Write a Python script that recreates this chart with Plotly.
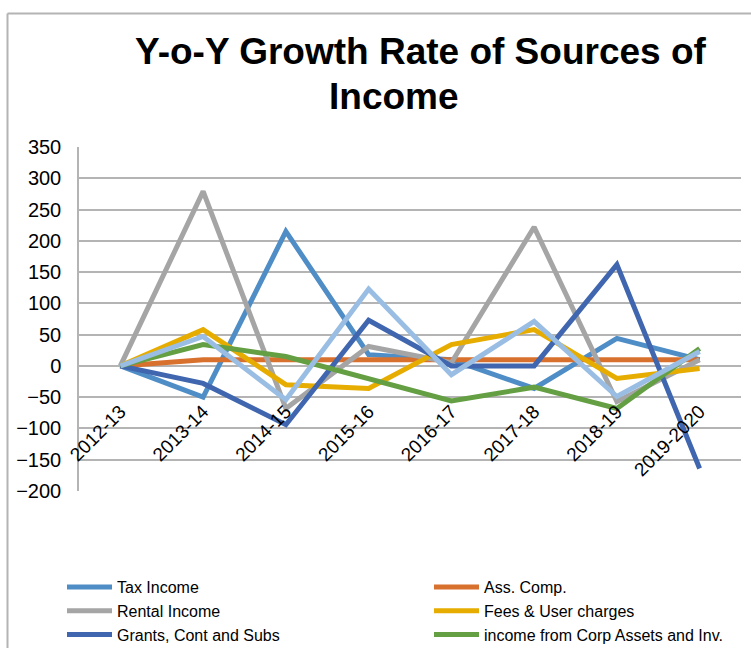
import plotly.graph_objects as go

# Financial years
years = ["2012-13", "2013-14", "2014-15", "2015-16", "2016-17",
         "2017-18", "2018-19", "2019-2020"]

# Year-on-year growth (%) of each income source
tax_income = [0, -50, 215, 18, 10, -36, 44, 10]
ass_comp = [0, 10, 10, 10, 10, 10, 10, 10]
rental_income = [0, 279, -68, 31, 5, 222, -57, 10]
fees_user = [0, 58, -30, -36, 34, 58, -20, -4]
grants = [0, -28, -94, 73, 0, 0, 162, -164]
corp_assets = [0, 34, 15, -20, -56, -34, -68, 28]
other_income = [0, 47, -54, 123, -14, 71, -49, 23]

# name, values, colour, legend column (None = not listed)
series = [
    ("Tax Income", tax_income, "#4F8DC6", "legend"),
    ("Ass. Comp.", ass_comp, "#D9712E", "legend2"),
    ("Rental Income", rental_income, "#A5A5A5", "legend"),
    ("Fees & User charges", fees_user, "#E6AD00", "legend2"),
    ("Grants, Cont and Subs", grants, "#3F66AE", "legend"),
    ("income from Corp Assets and Inv.", corp_assets, "#64A043", "legend2"),
    ("Other Income", other_income, "#9ABEE3", None),
]

fig = go.Figure()
for name, vals, color, leg in series:
    fig.add_trace(go.Scatter(
        x=years, y=vals, name=name, mode="lines",
        line=dict(color=color, width=5),
        showlegend=leg is not None,
        legend=leg if leg else "legend",
    ))

W, H = 751, 648
L, R, T, B = 79, 741, 147, 491
pw, ph = R - L, B - T


def px(x):
    return (x - L) / pw


def py(y):
    return (B - y) / ph


font = "Liberation Sans, Arial, sans-serif"
legend_style = dict(
    orientation="v", xanchor="left", yanchor="top",
    font=dict(size=16, family=font, color="#000000"),
    tracegroupgap=0, itemwidth=45, traceorder="normal",
    bgcolor="rgba(0,0,0,0)",
)

fig.update_layout(
    width=W, height=H,
    margin=dict(l=L, r=W - R, t=T, b=H - B, autoexpand=False),
    paper_bgcolor="white", plot_bgcolor="white",
    font=dict(family=font, color="#000000"),
    showlegend=True,
    legend=dict(x=px(62), y=py(570), **legend_style),
    legend2=dict(x=px(429), y=py(570), **legend_style),
    xaxis=dict(
        type="category", range=[-0.5, 7.5],
        anchor="free", position=200 / 550,
        showgrid=False, showline=False, zeroline=False,
        ticks="", tickangle=-45, ticklabelstandoff=30,
        tickfont=dict(size=19, family=font, color="#000000"),
    ),
    yaxis=dict(
        range=[-200, 350], dtick=50,
        showgrid=True, gridcolor="#B4B4B4", gridwidth=1.5,
        zeroline=False, showline=True, linecolor="#B4B4B4", linewidth=1.5,
        ticks="", ticklabelstandoff=12,
        tickfont=dict(size=20, family=font, color="#000000"),
    ),
    shapes=[
        # chart-area border (left and top edges)
        dict(type="line", xref="paper", yref="paper",
             x0=px(7.5), x1=px(760), y0=py(13.5), y1=py(13.5),
             line=dict(color="#B4B4B4", width=2)),
        dict(type="line", xref="paper", yref="paper",
             x0=px(7.5), x1=px(7.5), y0=py(13.5), y1=py(660),
             line=dict(color="#B4B4B4", width=2)),
    ],
    annotations=[
        dict(text="<b>Y-o-Y Growth Rate of Sources of</b>", xref="paper", yref="paper",
             x=px(421), y=py(52), xanchor="center", yanchor="middle",
             showarrow=False, font=dict(size=37, family=font, color="#000000")),
        dict(text="<b>Income</b>", xref="paper", yref="paper",
             x=px(394), y=py(97), xanchor="center", yanchor="middle",
             showarrow=False, font=dict(size=37, family=font, color="#000000")),
    ],
)

fig.write_html("out.html")
